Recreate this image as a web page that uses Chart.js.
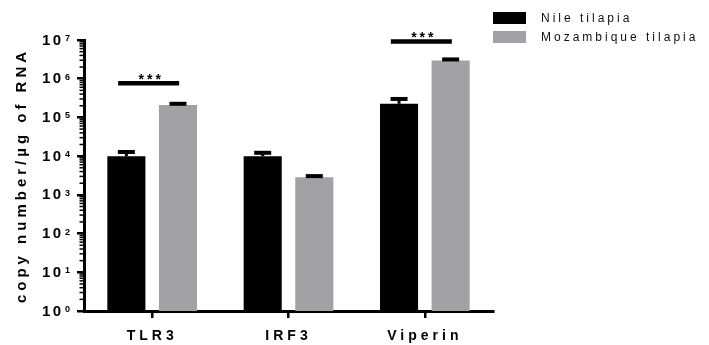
<!DOCTYPE html>
<html>
<head>
<meta charset="utf-8">
<script src="https://cdn.jsdelivr.net/npm/chart.js@4"></script>
<style>
  html, body { margin: 0; padding: 0; background: #fff; }
  #wrap { width: 709px; height: 345px; }
</style>
</head>
<body>
<div id="wrap"><canvas id="myChart"></canvas></div>
<script>
const categories = ['TLR3', 'IRF3', 'Viperin'];
const seriesNames = ['Nile tilapia', 'Mozambique tilapia'];
const nileMean = [1.0e4, 1.0e4, 2.25e5];
const nileUpper = [1.28e4, 1.22e4, 3.0e5];
const mozMean = [2.1e5, 2.85e3, 2.95e6];
const mozUpper = [2.25e5, 3.05e3, 3.15e6];
const yTicks = [1, 1e1, 1e2, 1e3, 1e4, 1e5, 1e6, 1e7];
const sigCategories = ['TLR3', 'Viperin'];
const sigLevels = [7.6e5, 9.2e6];
const sigLabels = ['***', '***'];

const colors = ['#000000', '#a2a1a6'];
const uppers = [nileUpper, mozUpper];
const FONT = '"Liberation Sans", Arial, sans-serif';

// letter spacing for the library's own text (axis labels, title)
const spacing = {
  id: 'spacing',
  beforeDraw(chart) { chart.ctx.letterSpacing = '4px'; },
  beforeDatasetsDraw(chart) { chart.ctx.letterSpacing = '0px'; }
};

const extras = {
  id: 'extras',
  afterDatasetsDraw(chart) {
    const ctx = chart.ctx;
    const y = chart.scales.y;
    ctx.save();
    ctx.strokeStyle = '#000';
    chart.data.datasets.forEach((ds, i) => {
      chart.getDatasetMeta(i).data.forEach((bar, j) => {
        const top = y.getPixelForValue(uppers[i][j]);
        ctx.lineWidth = 3;
        ctx.beginPath();
        ctx.moveTo(bar.x, bar.y);
        ctx.lineTo(bar.x, top);
        ctx.stroke();
        ctx.lineWidth = 4;
        ctx.beginPath();
        ctx.moveTo(bar.x - 8.5, top);
        ctx.lineTo(bar.x + 8.5, top);
        ctx.stroke();
      });
    });
    ctx.restore();
  },
  afterDraw(chart) {
    const ctx = chart.ctx;
    const x = chart.scales.x;
    const y = chart.scales.y;
    ctx.save();
    ctx.fillStyle = '#000';
    ctx.strokeStyle = '#000';

    // minor ticks of the log axis
    ctx.lineWidth = 1.5;
    for (let k = 0; k < 7; k++) {
      for (let m = 2; m <= 9; m++) {
        const py = y.getPixelForValue(m * Math.pow(10, k));
        ctx.beginPath();
        ctx.moveTo(79.5, py);
        ctx.lineTo(83, py);
        ctx.stroke();
      }
    }

    // y tick labels 10^n
    yTicks.forEach(v => {
      const py = y.getPixelForValue(v);
      ctx.letterSpacing = '2.5px';
      ctx.font = 'bold 15px ' + FONT;
      ctx.textAlign = 'left';
      ctx.textBaseline = 'middle';
      ctx.fillText('10', 42, py + 0.5);
      ctx.letterSpacing = '0px';
      ctx.font = 'bold 9px ' + FONT;
      ctx.textBaseline = 'top';
      ctx.fillText(String(Math.round(Math.log10(v))), 65, py - 6);
    });

    // significance bars
    sigCategories.forEach((c, i) => {
      const cx = x.getPixelForValue(categories.indexOf(c));
      const py = y.getPixelForValue(sigLevels[i]);
      ctx.lineWidth = 4.5;
      ctx.beginPath();
      ctx.moveTo(cx - 34, py);
      ctx.lineTo(cx + 27, py);
      ctx.stroke();
      ctx.letterSpacing = '3px';
      ctx.font = 'bold 14px ' + FONT;
      ctx.textAlign = 'center';
      ctx.textBaseline = 'alphabetic';
      ctx.fillText(sigLabels[i], cx - 1, py + 1);
    });

    // legend
    ctx.letterSpacing = '3px';
    ctx.font = '12px ' + FONT;
    ctx.textAlign = 'left';
    ctx.textBaseline = 'middle';
    seriesNames.forEach((name, i) => {
      const ly = 18 + i * 19;
      ctx.fillStyle = colors[i];
      ctx.fillRect(493, ly - 6, 33, 12);
      ctx.fillStyle = '#111';
      ctx.fillText(name, 541, ly + 0.5);
    });
    ctx.restore();
  }
};

new Chart(document.getElementById('myChart'), {
  type: 'bar',
  data: {
    labels: categories,
    datasets: [
      { label: seriesNames[0], data: nileMean, backgroundColor: colors[0] },
      { label: seriesNames[1], data: mozMean, backgroundColor: colors[1] }
    ]
  },
  options: {
    responsive: true,
    maintainAspectRatio: false,
    animation: false,
    categoryPercentage: 0.757,
    barPercentage: 0.738,
    layout: { padding: { top: 40, right: 216, bottom: 0, left: 0 } },
    plugins: {
      legend: { display: false },
      tooltip: { enabled: false }
    },
    scales: {
      x: {
        grid: { display: true, drawOnChartArea: false, offset: false, tickLength: 7, lineWidth: 2.5, color: '#000' },
        border: { display: true, width: 3, color: '#000' },
        ticks: { color: '#000', padding: 10, font: { family: FONT, size: 14, weight: 'bold' } },
        afterFit: s => { s.height = 34; }
      },
      y: {
        type: 'logarithmic',
        min: 1,
        max: 1e7,
        grid: { display: true, drawOnChartArea: false, tickLength: 7, lineWidth: 2.5, color: '#000' },
        border: { display: true, width: 3, color: '#000' },
        ticks: { display: false },
        afterBuildTicks: s => { s.ticks = yTicks.map(v => ({ value: v })); },
        title: {
          display: true,
          text: 'copy number/µg of RNA',
          color: '#000',
          padding: { top: 13, bottom: 0 },
          font: { family: FONT, size: 15, weight: 'bold' }
        },
        afterFit: s => { s.width = 84; }
      }
    }
  },
  plugins: [spacing, extras]
});
</script>
</body>
</html>
